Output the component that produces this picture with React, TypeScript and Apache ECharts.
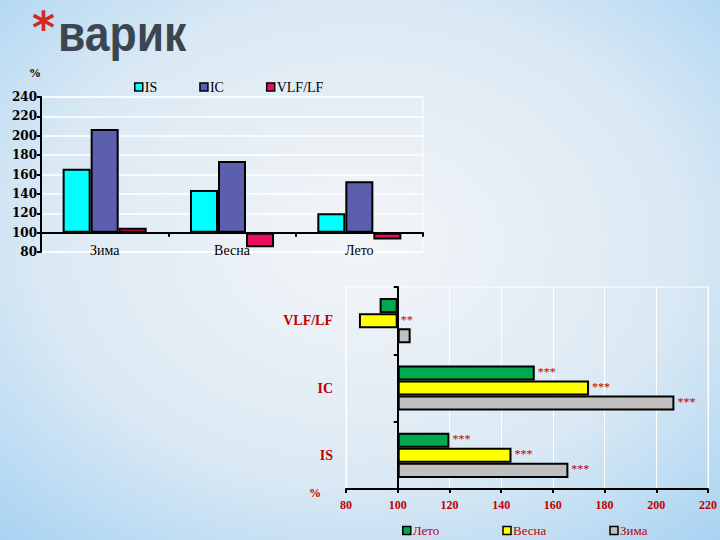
import React, { useEffect, useRef } from 'react';
import * as echarts from 'echarts';

// исходные данные (в процентах, база 100%)
const seasons = ['Зима', 'Весна', 'Лето'];
const indices = ['IS', 'IC', 'VLF/LF'];
const isValues = [166, 144, 120];
const icValues = [207, 174, 153];
const vlfValues = [105, 85, 93];

// значимость для горизонтальной диаграммы (порядок: IS, IC, VLF/LF)
const summerMarks = ['***', '***', ''];
const springMarks = ['***', '***', '**'];
const winterMarks = ['***', '***', ''];

const BASE = 100;
const topMin = 80;
const topMax = 240;
const bottomMin = 80;
const bottomMax = 220;
const step = 20;

const SERIF = '"Liberation Serif", "Times New Roman", serif';
const WIDE_SERIF = '"DejaVu Serif", serif';
const RED = '#c00000';

const shift = (arr: number[]) => arr.map(v => v - BASE);

const App: React.FC = () => {
  const chartRef = useRef<HTMLDivElement>(null);

  useEffect(() => {
    if (!chartRef.current) return;
    const chart = echarts.init(chartRef.current, undefined, { renderer: 'svg' });

    const bySeason = (i: number) => [isValues[i], icValues[i], vlfValues[i]];
    const barBorder = { borderColor: '#000', borderWidth: 2 };

    const hSeries = (name: string, idx: number, color: string, marks: string[]) => ({
      name,
      type: 'bar',
      xAxisIndex: 1,
      yAxisIndex: 1,
      barGap: '0%',
      barCategoryGap: '33%',
      data: shift(bySeason(idx)).map((v, k) => ({
        value: v,
        label: { formatter: marks[k] }
      })),
      itemStyle: { color, ...barBorder },
      label: {
        show: true,
        position: 'right',
        distance: 3,
        offset: [0, -1],
        color: RED,
        fontFamily: SERIF,
        fontSize: 12
      }
    });

    const option: any = {
      animation: false,
      backgroundColor: new echarts.graphic.RadialGradient(0.5, 0.45, 0.8, [
        { offset: 0, color: '#f3f5f7' },
        { offset: 0.55, color: '#dbe9f4' },
        { offset: 1, color: '#9fcff2' }
      ]),
      textStyle: { fontFamily: SERIF },
      graphic: [
        {
          type: 'text',
          x: 32,
          y: 27,
          style: {
            text: '*',
            font: 'bold 44px "DejaVu Sans", sans-serif',
            fill: '#d42a1e',
            verticalAlign: 'middle'
          }
        },
        {
          type: 'text',
          x: 58,
          y: 34,
          scaleX: 0.89,
          style: {
            text: 'варик',
            font: 'bold 50px "Liberation Sans", Arial, sans-serif',
            fill: '#3b4650',
            verticalAlign: 'middle'
          }
        },
        {
          type: 'text',
          x: 29,
          y: 67,
          style: { text: '%', font: 'bold 12px ' + SERIF, fill: '#000' }
        },
        {
          type: 'text',
          x: 309,
          y: 487,
          style: { text: '%', font: 'bold 12px ' + SERIF, fill: RED }
        }
      ],
      legend: [
        {
          data: ['IS', 'IC', 'VLF/LF'],
          left: 129,
          top: 75,
          itemWidth: 8,
          itemHeight: 8,
          itemGap: 42,
          icon: 'rect',
          itemStyle: { borderColor: '#000', borderWidth: 1.5 },
          textStyle: { color: '#000', fontFamily: SERIF, fontSize: 14, padding: [0, 0, 0, -3] }
        },
        {
          data: ['Лето', 'Весна', 'Зима'],
          left: 397,
          top: 519,
          itemWidth: 8,
          itemHeight: 8,
          itemGap: 63,
          icon: 'rect',
          itemStyle: { borderColor: '#000', borderWidth: 1.5 },
          textStyle: { color: RED, fontFamily: SERIF, fontSize: 13, padding: [0, 0, 0, -3] }
        }
      ],
      grid: [
        {
          left: 41,
          right: 297,
          top: 97,
          bottom: 288,
          show: true,
          borderColor: '#ffffff',
          borderWidth: 1,
          backgroundColor: 'transparent'
        },
        {
          left: 346,
          right: 7,
          top: 287,
          bottom: 51,
          show: true,
          borderColor: '#ffffff',
          borderWidth: 1,
          backgroundColor: 'transparent'
        }
      ],
      xAxis: [
        {
          type: 'category',
          gridIndex: 0,
          data: seasons,
          axisLine: { onZero: true, lineStyle: { color: '#000', width: 2 } },
          axisTick: { show: true, length: 4, lineStyle: { color: '#000', width: 2 } },
          axisLabel: { color: '#000', fontFamily: SERIF, fontSize: 14, margin: -9 },
          splitLine: { show: false }
        },
        {
          type: 'value',
          gridIndex: 1,
          min: bottomMin - BASE,
          max: bottomMax - BASE,
          interval: step,
          axisLine: { show: true, onZero: false, lineStyle: { color: '#000', width: 2 } },
          axisTick: { show: true, length: 4, lineStyle: { color: '#000', width: 2 } },
          axisLabel: {
            color: RED,
            fontFamily: SERIF,
            fontWeight: 'bold',
            fontSize: 12,
            margin: 10,
            formatter: (v: number) => String(v + BASE)
          },
          splitLine: { show: true, lineStyle: { color: '#ffffff', width: 1 } }
        }
      ],
      yAxis: [
        {
          type: 'value',
          gridIndex: 0,
          min: topMin - BASE,
          max: topMax - BASE,
          interval: step,
          axisLine: { show: true, lineStyle: { color: '#000', width: 2 } },
          axisTick: { show: true, length: 4, lineStyle: { color: '#000', width: 2 } },
          axisLabel: {
            color: '#000',
            fontFamily: WIDE_SERIF,
            fontWeight: 'bold',
            fontSize: 12,
            margin: 4,
            formatter: (v: number) => String(v + BASE)
          },
          splitLine: { show: true, lineStyle: { color: '#ffffff', width: 1.5 } }
        },
        {
          type: 'category',
          gridIndex: 1,
          data: indices,
          position: 'left',
          axisLine: { onZero: true, lineStyle: { color: '#000', width: 2 } },
          axisTick: { show: true, length: 4, lineStyle: { color: '#000', width: 2 } },
          axisLabel: { show: false },
          splitLine: { show: false }
        },
        {
          type: 'category',
          gridIndex: 1,
          data: indices,
          position: 'left',
          axisLine: { show: false, onZero: false },
          axisTick: { show: false },
          axisLabel: {
            color: RED,
            fontFamily: SERIF,
            fontWeight: 'bold',
            fontSize: 14,
            margin: 13
          },
          splitLine: { show: false }
        }
      ],
      series: [
        {
          name: 'IS',
          type: 'bar',
          xAxisIndex: 0,
          yAxisIndex: 0,
          barGap: '0%',
          barCategoryGap: '34%',
          data: shift(isValues),
          itemStyle: { color: '#00ffff', ...barBorder }
        },
        {
          name: 'IC',
          type: 'bar',
          xAxisIndex: 0,
          yAxisIndex: 0,
          data: shift(icValues),
          itemStyle: { color: '#5b5fae', ...barBorder }
        },
        {
          name: 'VLF/LF',
          type: 'bar',
          xAxisIndex: 0,
          yAxisIndex: 0,
          data: shift(vlfValues),
          itemStyle: { color: '#e8105c', ...barBorder }
        },
        hSeries('Лето', 2, '#00a850', summerMarks),
        hSeries('Весна', 1, '#ffff00', springMarks),
        hSeries('Зима', 0, '#c0c0c0', winterMarks)
      ]
    };

    chart.setOption(option);

    return () => {
      chart.dispose();
    };
  }, []);

  return (
    <div
      ref={chartRef}
      style={{ position: 'absolute', left: 0, top: 0, width: 720, height: 540 }}
    />
  );
};

export default App;
